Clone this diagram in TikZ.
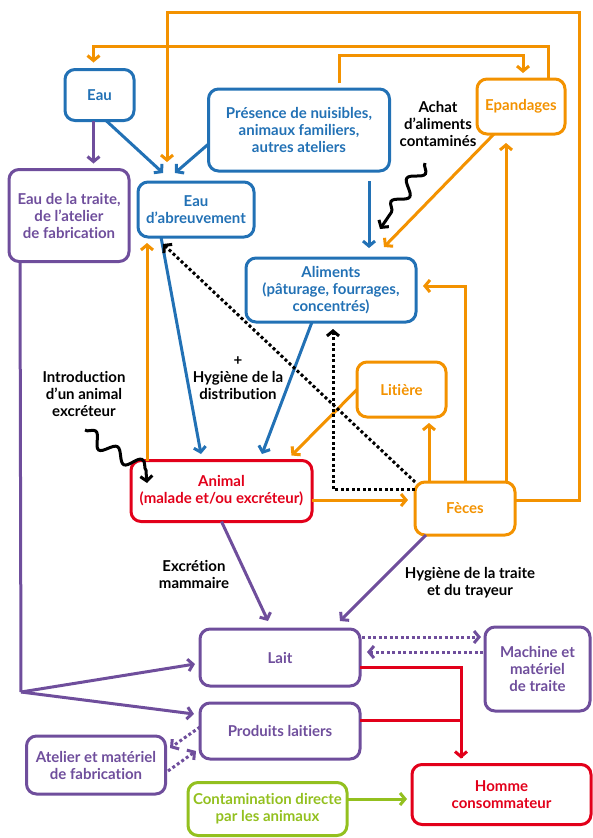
\documentclass[tikz,border=0pt]{standalone}
\usepackage{fontspec}
\setmainfont{Lato}[Ligatures=NoCommon]
\usetikzlibrary{arrows.meta,decorations.pathmorphing}

\definecolor{cBlue}{HTML}{2271B5}
\definecolor{cOrange}{HTML}{F39200}
\definecolor{cPurple}{HTML}{6F4E9C}
\definecolor{cRed}{HTML}{E2001A}
\definecolor{cGreen}{HTML}{93C01F}

\tikzset{
  box/.style={draw=#1, text=#1, line width=3pt, rounded corners=10pt, align=center,
    font=\bfseries\fontsize{15}{17}\selectfont, inner sep=2pt, outer sep=0pt},
  lbl/.style={align=center, font=\bfseries\fontsize{15}{17}\selectfont},
  tip/.style={-{Straight Barb[length=5pt,width=12pt]}},
  line/.style={draw=#1, line width=3pt},
  arr/.style={line=#1, tip},
  dots/.style={line=#1, dash pattern=on 3pt off 2.5pt, tip},
  wavy/.style={line=black, tip, decorate,
    decoration={snake, amplitude=6.5pt, segment length=28pt, post length=7pt}}
}

\begin{document}
\begin{tikzpicture}[x=1pt,y=-1pt]
\useasboundingbox (0,0) rectangle (593,838);

\node[box=cBlue, minimum width=69pt, minimum height=51pt] (eau) at (99.5,95) {Eau};
\node[box=cPurple, minimum width=120pt, minimum height=92pt] (traite) at (69,215.5)
  {Eau de la traite,\\de l’atelier\\de fabrication};
\node[box=cBlue, minimum width=116pt, minimum height=55pt] (abreuv) at (196,209.5)
  {Eau\\d’abreuvement};
\node[box=cBlue, minimum width=181pt, minimum height=82pt] (presence) at (299,130)
  {Présence de nuisibles,\\animaux familiers,\\autres ateliers};
\node[box=cOrange, minimum width=88pt, minimum height=55pt] (epand) at (521,106.5) {Epandages};
\node[box=cBlue, minimum width=170pt, minimum height=64pt] (aliments) at (331,290)
  {Aliments\\(pâturage, fourrages,\\concentrés)};
\node[box=cOrange, minimum width=89pt, minimum height=55pt] (litiere) at (401.5,389.5) {Litière};
\node[box=cRed, minimum width=181pt, minimum height=61pt] (animal) at (221.5,491)
  {Animal\\(malade et/ou excréteur)};
\node[box=cOrange, minimum width=100pt, minimum height=53pt] (feces) at (465,508.5) {Fèces};

\node[box=cPurple, minimum width=160pt, minimum height=57pt] (lait) at (280,657.5) {Lait};
\node[box=cPurple, minimum width=160pt, minimum height=56pt] (produits) at (280,731) {Produits laitiers};
\node[box=cPurple, minimum width=105pt, minimum height=84pt] (machine) at (537.5,669)
  {Machine et\\matériel\\de traite};
\node[box=cPurple, minimum width=139pt, minimum height=58pt] (atelier) at (96,765)
  {Atelier et matériel\\de fabrication};
\node[box=cGreen, minimum width=159pt, minimum height=53pt] (contam) at (267.5,809)
  {Contamination directe\\par les animaux};
\node[box=cRed, minimum width=179pt, minimum height=60pt] (homme) at (501.5,794.5)
  {Homme\\consommateur};

\node[lbl] (achat) at (438,124) {Achat\\d’aliments\\contaminés};
\node[lbl] (intro) at (84,394) {Introduction\\d’un animal\\excréteur};
\node[lbl] (hygdist) at (238,378) {+\\Hygiène de la\\distribution};
\node[lbl] (excr) at (194,574) {Excrétion\\mammaire};
\node[lbl] (hygtr) at (470,583) {Hygiène de la traite\\et du trayeur};

\draw[arr=cOrange, shorten >=20pt] ([yshift=8.5pt]feces.east) -| (579,12) -| ([xshift=-29pt]abreuv.north);
\draw[arr=cOrange, shorten >=7pt] ([xshift=27pt]epand.north) -- ++(0,-33) -| ([xshift=-6pt]eau.north);
\draw[arr=cOrange, shorten <=6pt, shorten >=6pt] ([xshift=40pt]presence.north) -- ++(0,-34) -| ([xshift=2pt]epand.north);
\draw[arr=cOrange] ([xshift=-27pt]epand.south) -- ([shift={(53pt,11pt)}]aliments.north);
\draw[arr=cOrange, shorten >=9pt] ([xshift=41pt]feces.north) -- ([xshift=-15pt]epand.south);
\draw[arr=cOrange, shorten >=7pt] (feces.north) |- ([yshift=4pt]aliments.east);
\draw[arr=cOrange, shorten >=6pt] ([xshift=-36pt]feces.north) -- ([xshift=-36pt]feces.north |- litiere.south);
\draw[arr=cOrange] (litiere.west) -- ([shift={(70pt,5pt)}]animal.north);
\draw[arr=cOrange, shorten >=7pt] ([yshift=-9pt]animal.east) -- ([yshift=-9pt]animal.east -| feces.west);
\draw[arr=cOrange, shorten >=6pt] ([xshift=-74.5pt]animal.north) -- ([xshift=-74.5pt]animal.north |- abreuv.south);

\draw[arr=cBlue] ([xshift=6.5pt]eau.south) -- ([shift={(-33pt,9pt)}]abreuv.north);
\draw[arr=cBlue] ([yshift=-14pt]presence.west) -- ([shift={(-21pt,9pt)}]abreuv.north);
\draw[arr=cBlue, shorten <=10pt, shorten >=10pt] ([xshift=70pt]presence.south) -- ([xshift=38pt]aliments.north);
\draw[arr=cBlue] ([xshift=-35pt]abreuv.south) -- ([shift={(-20.5pt,6.5pt)}]animal.north);
\draw[arr=cBlue] ([xshift=-19pt]aliments.south) -- ([shift={(40.5pt,6.5pt)}]animal.north);

\draw[arr=cPurple, shorten >=6pt] ([xshift=-6pt]eau.south) -- ([xshift=24.5pt]traite.north);
\coordinate (split) at (21,692);
\draw[line=cPurple] ([xshift=-49pt]traite.south) -- (split);
\draw[arr=cPurple] (split) -- ([shift={(-5pt,-6.5pt)}]lait.west);
\draw[arr=cPurple] (split) -- ([shift={(-6pt,17pt)}]produits.west);
\draw[arr=cPurple] (animal.south) -- ([shift={(-12pt,8pt)}]lait.north);
\draw[arr=cPurple] ([xshift=-39pt]feces.south) -- ([shift={(60pt,8pt)}]lait.north);
\draw[dots=cPurple, shorten <=2pt, shorten >=4pt] ([yshift=20.5pt]lait.east) -- ([yshift=20.5pt]lait.east -| machine.west);
\draw[dots=cPurple, shorten <=2pt, shorten >=7pt] ([yshift=17pt]machine.west) -- ([yshift=17pt]machine.west -| lait.east);
\draw[dots=cPurple] ([yshift=4pt]produits.west) -- ([shift={(4.5pt,17pt)}]atelier.east);
\draw[dots=cPurple] ([shift={(2.5pt,-6pt)}]atelier.east) -- ([shift={(-4pt,-20pt)}]produits.west);

\coordinate (rj) at ([xshift=-40.5pt]homme.north);
\draw[arr=cRed, shorten >=6pt] ([yshift=-10pt]lait.east) -| (rj);
\draw[line=cRed, shorten >=7pt] ([yshift=11pt]produits.east) -| (rj);
\draw[arr=cGreen, shorten >=5pt] ([yshift=10pt]contam.east) -- ([yshift=-4.5pt]homme.west);

\coordinate (achatStart) at (425,163);
\draw[wavy] (achatStart) -- ([shift={(49pt,29pt)}]aliments.north);
\coordinate (introStart) at (85,430);
\draw[wavy] (introStart) .. controls (120,462) and (147,455) .. ([shift={(16pt,-22.5pt)}]animal.north west);
\draw[dots=black] (feces.north west) -- ([shift={(-33pt,-7pt)}]abreuv.south);
\draw[dots=black, shorten >=7pt] ([yshift=-7pt]feces.north west) -| ([xshift=2pt]aliments.south);

\end{tikzpicture}
\end{document}
